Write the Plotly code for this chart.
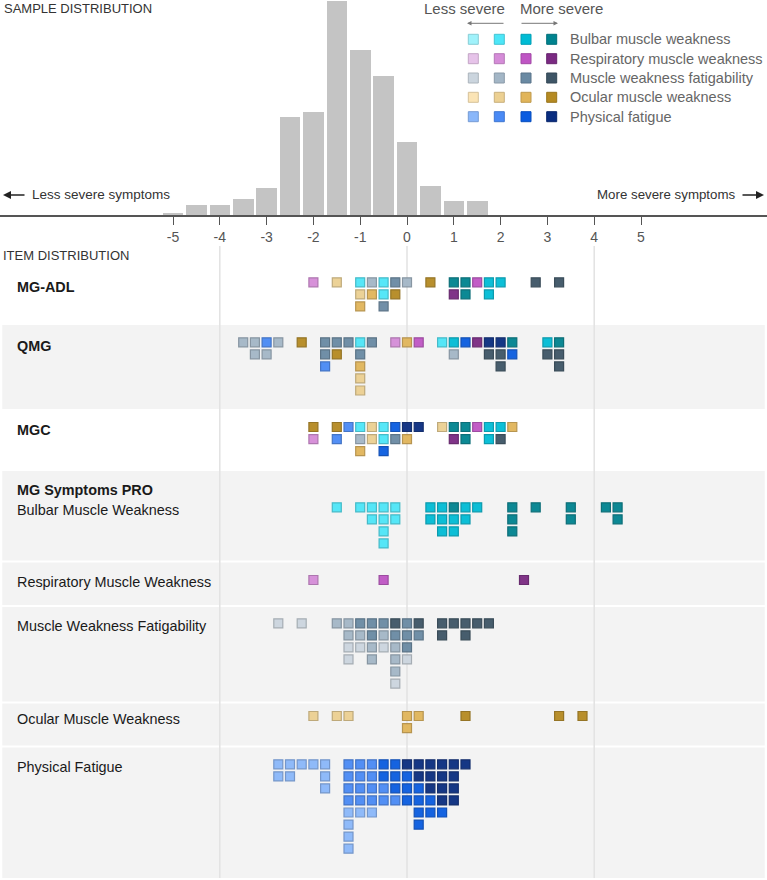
import plotly.graph_objects as go

# ---------------- data ----------------
HIST_X = [-5.0, -4.5, -4.0, -3.5, -3.0, -2.5, -2.0, -1.5, -1.0, -0.5, 0.0, 0.5, 1.0, 1.5]
HIST_Y = [0.7, 3.0, 3.0, 4.6, 8.0, 28.7, 30.0, 62.6, 48.2, 40.8, 21.3, 8.5, 4.0, 4.0]

TICK_VALS = [-5, -4, -3, -2, -1, 0, 1, 2, 3, 4, 5]
TICK_LABELS = ["-5", "-4", "-3", "-2", "-1", "0", "1", "2", "3", "4", "5"]

# item columns: x position (logit) and stacked categories top -> bottom
ADL_X = [-2.0, -1.5, -1.0, -0.75, -0.5, -0.25, 0.0, 0.5, 1.0, 1.25, 1.5, 1.75, 2.0, 2.75, 3.25]
ADL_C = ["R2", "O2", "B2 O2 O3", "F2 O3", "B2 B2 F3", "F3 O4", "F2", "O4", "B4 R4", "B4 B4",
         "R3", "B3 B3", "B3", "F4", "F4"]

QMG_X = [-3.5, -3.25, -3.0, -2.75, -2.25, -1.75, -1.5, -1.25, -1.0, -0.75, -0.25, 0.0, 0.25,
         0.75, 1.0, 1.25, 1.5, 1.75, 2.0, 2.25, 3.0, 3.25]
QMG_C = ["F2", "F2 F2", "P2 F2", "F2", "O4", "F3 F3 P2", "F3 O4", "F3", "B2 F3 O3 O2 O2", "F3",
         "R2", "O3", "R3", "B2", "B3 F2", "P3", "R4", "P4 F4", "P4 F4 F4", "B4 P3", "B3 F4",
         "B4 F4 F4"]

MGC_X = [-2.0, -1.5, -1.25, -1.0, -0.75, -0.5, -0.25, 0.0, 0.25, 0.75, 1.0, 1.25, 1.5, 1.75,
         2.0, 2.25]
MGC_C = ["O4 R2", "O4 P2", "P2", "B2 F2 O3", "O2 O2", "B2 B2 P3", "P3 F3", "P4 O3", "P4", "O2",
         "B4 R4", "B4 B4", "R3", "B3 B3", "B3 F4", "O3"]

BUL_X = [-1.5, -1.0, -0.75, -0.5, -0.25, 0.5, 0.75, 1.0, 1.25, 1.5, 2.25, 2.75, 3.5, 4.25, 4.5]
BUL_C = ["B2", "B2", "B2 B2", "B2 B2 B2 B2", "B2 B2", "B3 B3", "B3 B3 B3", "B4 B3 B3", "B3 B3",
         "B3", "B4 B4 B4", "B4", "B4 B4", "B4", "B4 B4"]

RES_X = [-2.0, -0.5, 2.5]
RES_C = ["R2", "R3", "R4"]

FAT_X = [-2.75, -2.25, -1.5, -1.25, -1.0, -0.75, -0.5, -0.25, 0.0, 0.25, 0.75, 1.0, 1.25, 1.5,
         1.75]
FAT_C = ["F1", "F1", "F2", "F2 F2 F1 F1", "F3 F2 F1", "F3 F3 F2 F2", "F3 F2 F1",
         "F4 F3 F2 F2 F2 F1", "F3 F3 F3 F1", "F4 F3", "F4 F4", "F4", "F4 F4", "F4", "F4"]

OCU_X = [-2.0, -1.5, -1.25, 0.0, 0.25, 1.25, 3.25, 3.75]
OCU_C = ["O2", "O2", "O2", "O3 O3", "O3", "O4", "O4", "O4"]

PHY_X = [-2.75, -2.5, -2.25, -2.0, -1.75, -1.25, -1.0, -0.75, -0.5, -0.25, 0.0, 0.25, 0.5,
         0.75, 1.0, 1.25]
PHY_C = ["P1 P1", "P1 P1", "P1", "P1", "P1 P1 P1", "P2 P2 P2 P2 P1 P1 P1 P1", "P2 P2 P2 P2 P1",
         "P2 P2 P2 P2 P1", "P3 P3 P2 P2", "P3 P3 P3 P2", "P4 P3 P3 P3", "P4 P4 P3 P3 P3 P3",
         "P4 P4 P4 P3 P3", "P4 P4 P4 P4 P3", "P4 P4 P4 P4", "P4"]

LEGEND_NAMES = ["Bulbar muscle weakness", "Respiratory muscle weakness",
                "Muscle weakness fatigability", "Ocular muscle weakness", "Physical fatigue"]
LEGEND_KEYS = ["B", "R", "F", "O", "P"]

# ---------------- styling ----------------
PAL = {
    'B1': '#a0f2fb', 'B2': '#4de6f8', 'B3': '#00bcd5', 'B4': '#00838f',
    'R1': '#e6c3e9', 'R2': '#d58cd8', 'R3': '#bf55c4', 'R4': '#7a2a82',
    'F1': '#cbd5de', 'F2': '#a3b6c6', 'F3': '#6a8aa3', 'F4': '#3e5566',
    'O1': '#fbe4b5', 'O2': '#ecd092', 'O3': '#e1b55a', 'O4': '#b58a22',
    'P1': '#8ab7fa', 'P2': '#4a8af5', 'P3': '#0a5ce0', 'P4': '#0a2d80',
}


def darker(hexc, f=0.8):
    h = hexc.lstrip('#')
    r, g, b = int(h[0:2], 16), int(h[2:4], 16), int(h[4:6], 16)
    return 'rgb(%d,%d,%d)' % (r * f, g * f, b * f)


W, H = 767, 880
ZERO_PX, PX_PER_UNIT = 407, 46.8
ROW_STEP = 12.05
FONT = "Liberation Sans, Arial, sans-serif"


def px2x(p):
    return (p - ZERO_PX) / PX_PER_UNIT


def py2paper(p):
    return 1 - p / H


SECTIONS = [
    (ADL_X, ADL_C, 282.3),
    (QMG_X, QMG_C, 342.3),
    (MGC_X, MGC_C, 427.0),
    (BUL_X, BUL_C, 507.3),
    (RES_X, RES_C, 580.0),
    (FAT_X, FAT_C, 623.3),
    (OCU_X, OCU_C, 716.0),
    (PHY_X, PHY_C, 764.3),
]

fig = go.Figure()

fig.add_bar(x=HIST_X, y=HIST_Y, width=0.44, marker=dict(color='#c4c4c4', line=dict(width=0)),
            xaxis='x', yaxis='y', hoverinfo='skip', showlegend=False)

for xs_, cs_, row0 in SECTIONS:
    xs, ys, cols, lines = [], [], [], []
    for xv, stack in zip(xs_, cs_):
        for i, code in enumerate(stack.split()):
            xs.append(xv)
            ys.append(row0 + i * ROW_STEP)
            cols.append(PAL[code])
            lines.append(darker(PAL[code]))
    fig.add_scatter(x=xs, y=ys, mode='markers', xaxis='x', yaxis='y2', showlegend=False,
                    hoverinfo='skip', cliponaxis=False,
                    marker=dict(symbol='square', size=9, color=cols, opacity=0.95,
                                line=dict(color=lines, width=1.2)))

shapes = []
BANDS = [(325, 409), (471, 560.5), (562.5, 605), (607, 701.5), (703.5, 745.5), (747.5, 878)]
for y0, y1 in BANDS:
    shapes.append(dict(type='rect', xref='paper', yref='y2', x0=0.003, x1=0.997, y0=y0, y1=y1,
                       fillcolor='#f3f3f3', line=dict(width=0), layer='below'))
for xv in [-4, 0, 4]:
    shapes.append(dict(type='line', xref='x', yref='y2', x0=xv, x1=xv, y0=246, y1=878,
                       line=dict(color='#e2e2e2', width=1.5), layer='below'))
LEG_COL_PX = [473.3, 499.3, 526.0, 551.7]
LEG_ROW_PX = [39.3, 58.7, 78.0, 97.3, 116.7]
for r, key in enumerate(LEGEND_KEYS):
    for c in range(4):
        col = PAL['%s%d' % (key, c + 1)]
        cx, cy = LEG_COL_PX[c], LEG_ROW_PX[r]
        shapes.append(dict(type='rect', xref='x', yref='paper',
                           x0=px2x(cx - 5), x1=px2x(cx + 5),
                           y0=py2paper(cy + 5), y1=py2paper(cy - 5),
                           fillcolor=col, line=dict(color=darker(col, 0.85), width=1)))

ann = []


def txt(text, xp, yp, size, color='#333', anchor='left', bold=False, yref='paper'):
    t = '<b>%s</b>' % text if bold else text
    ann.append(dict(text=t, xref='paper', x=xp / W, yref=yref,
                    y=py2paper(yp) if yref == 'paper' else yp,
                    xanchor=anchor, yanchor='middle', showarrow=False,
                    font=dict(size=size, color=color, family=FONT)))


txt('SAMPLE DISTRIBUTION', 2, 8.5, 13, '#333')
txt('ITEM DISTRIBUTION', 1, 255.5, 13, '#333')
txt('Less severe symptoms', 30, 195, 13.5, '#333')
txt('More severe symptoms', 738, 195, 13.3, '#333', anchor='right')
txt('Less severe', 507, 8.5, 15, '#555', anchor='right')
txt('More severe', 518, 8.5, 15, '#555')
for r, name in enumerate(LEGEND_NAMES):
    txt(name, 568, LEG_ROW_PX[r], 14.5, '#666')


def arrow(head_px, tail_px, yp, color, width, size):
    ann.append(dict(text='', xref='x', x=px2x(head_px), yref='paper', y=py2paper(yp),
                    ax=tail_px - head_px, ay=0, axref='pixel', ayref='pixel', showarrow=True,
                    arrowhead=2, arrowsize=size, arrowwidth=width, arrowcolor=color))


arrow(3, 26, 195, '#222', 1.6, 1.0)
arrow(764, 741, 195, '#222', 1.6, 1.0)
arrow(467, 505, 23.3, '#777', 1, 0.9)
arrow(558, 520, 23.3, '#777', 1, 0.9)

LABELS = [("MG-ADL", 286.7, True), ("QMG", 346, True), ("MGC", 430, True),
          ("MG Symptoms PRO", 490, True), ("Bulbar Muscle Weakness", 510.5, False),
          ("Respiratory Muscle Weakness", 582.3, False),
          ("Muscle Weakness Fatigability", 626, False), ("Ocular Muscle Weakness", 719.3, False),
          ("Physical Fatigue", 766.7, False)]
for t, yv, b in LABELS:
    txt(t, 15, yv, 14.4, '#1a1a1a', bold=b, yref='y2')

fig.update_layout(
    width=W, height=H, margin=dict(l=0, r=0, t=0, b=0),
    paper_bgcolor='white', plot_bgcolor='rgba(0,0,0,0)',
    font=dict(family=FONT),
    bargap=0,
    xaxis=dict(range=[px2x(0), px2x(W)], anchor='y', tickvals=TICK_VALS, ticktext=TICK_LABELS,
               ticks='outside', ticklen=8, tickwidth=1.3, tickcolor='#555', showline=True,
               linecolor='#555', linewidth=1.5, showgrid=False, zeroline=False,
               tickfont=dict(size=14, color='#555', family=FONT), fixedrange=True),
    yaxis=dict(domain=[1 - 215 / H, 1], range=[0, 62.9], visible=False, fixedrange=True),
    yaxis2=dict(domain=[0, 1 - 245 / H], range=[H, 245], visible=False, anchor='x',
                fixedrange=True),
    shapes=shapes, annotations=ann, showlegend=False,
)

fig.write_html("out.html", config={'displayModeBar': False},
               post_script="document.body.style.margin='0';document.body.style.overflow='hidden';")
